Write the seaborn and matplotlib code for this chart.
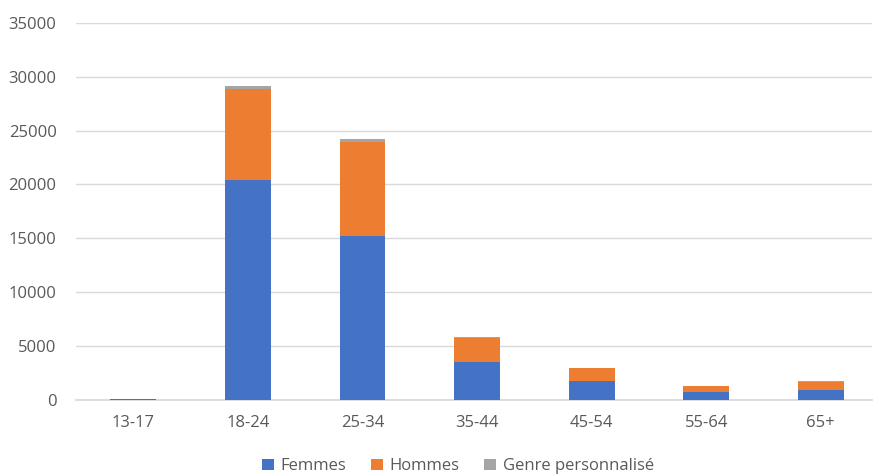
import matplotlib
matplotlib.use("Agg")
import matplotlib.pyplot as plt
import seaborn as sns
import numpy as np
import pandas as pd
from matplotlib.patches import Patch

categories = ["13-17", "18-24", "25-34", "35-44", "45-54", "55-64", "65+"]
femmes = [60, 20450, 15250, 3560, 1790, 770, 930]
hommes = [40, 8400, 8650, 2230, 1150, 560, 770]
genre = [5, 300, 340, 30, 20, 10, 15]
series_names = ["Femmes", "Hommes", "Genre personnalisé"]
colors = ["#4472C4", "#ED7D31", "#A5A5A5"]

sns.set_theme(style="white")
plt.rcParams['font.family'] = ['Open Sans', 'DejaVu Sans']

fig = plt.figure(figsize=(8.77, 4.75), dpi=100)
ax = fig.add_axes([0.0867, 0.158, 0.908, 0.794])

f = np.array(femmes)
h = np.array(hommes)
g = np.array(genre)
cum = [f + h + g, f + h, f]
df = pd.DataFrame({"cat": categories, "c0": cum[0], "c1": cum[1], "c2": cum[2]})
for col, colr in zip(["c0", "c1", "c2"], [colors[2], colors[1], colors[0]]):
    sns.barplot(data=df, x="cat", y=col, color=colr, width=0.4, ax=ax,
                saturation=1, edgecolor="none", linewidth=0, zorder=3)

ax.set_ylim(0, 35000)
ax.set_yticks(range(0, 35001, 5000))
ax.set_xlim(-0.5, 6.45)
ax.yaxis.grid(True, color="#D9D9D9", linewidth=1, zorder=0)
ax.set_axisbelow(True)
for s in ["top", "right", "left"]:
    ax.spines[s].set_visible(False)
ax.spines["bottom"].set_color("#D9D9D9")
ax.set_xlabel("")
ax.set_ylabel("")
ax.tick_params(axis="both", length=0, labelsize=12, labelcolor="#595959")
ax.tick_params(axis="x", pad=11)
ax.tick_params(axis="y", pad=14)

handles = [Patch(facecolor=c, edgecolor="none") for c in colors]
fig.legend(handles, series_names, loc="lower center", bbox_to_anchor=(0.522, -0.03),
           ncol=3, frameon=False, fontsize=12, labelcolor="#595959",
           handlelength=0.7, handleheight=0.7, handletextpad=0.4, columnspacing=1.5)

fig.savefig("out.png", dpi=100)
